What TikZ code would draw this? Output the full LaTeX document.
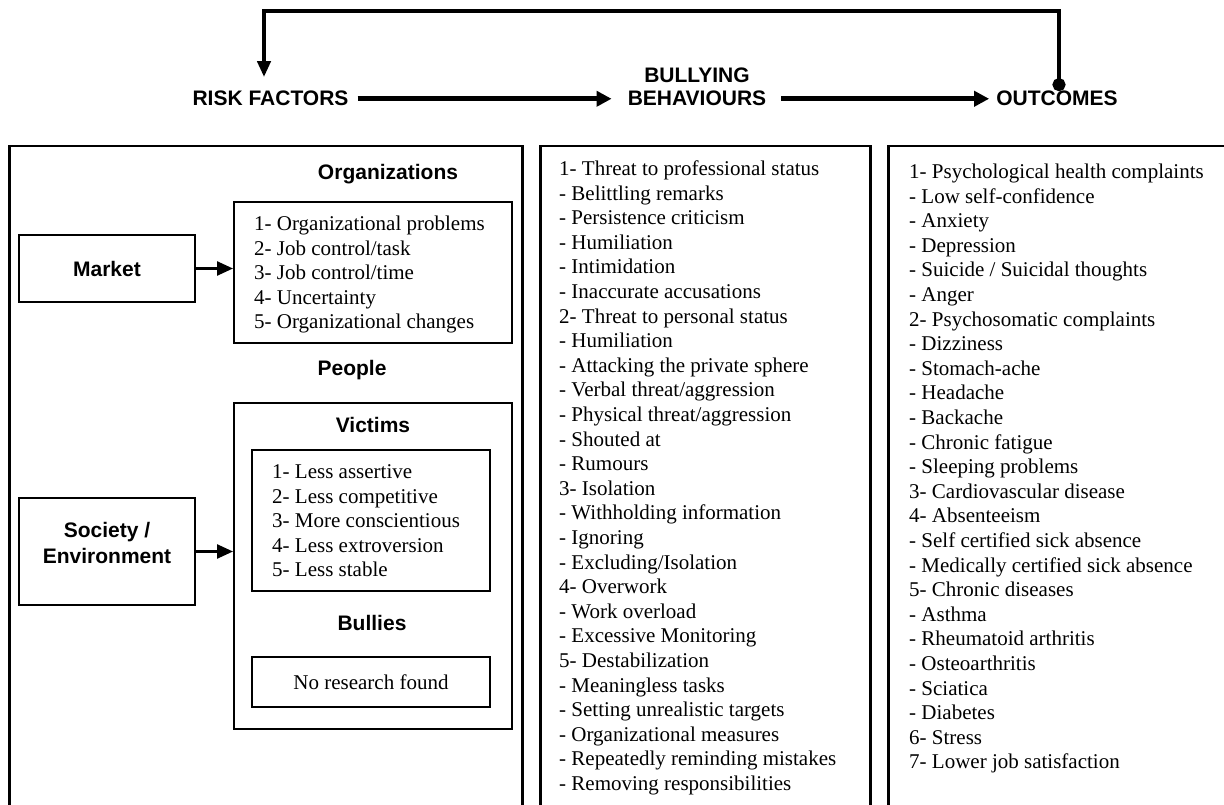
\documentclass[tikz,border=0pt]{standalone}
\usepackage{fontspec}
\setmainfont{Liberation Serif}
\setsansfont{Liberation Sans}
\usetikzlibrary{arrows.meta}

\begin{document}
\begin{tikzpicture}[x=1pt,y=-1pt,
  heading/.style={font=\sffamily\bfseries\fontsize{21}{26}\selectfont, inner sep=0pt, anchor=base},
  itemlist/.style={font=\fontsize{21}{24.6}\selectfont, inner sep=0pt, anchor=base west},
  panel/.style={draw, line width=2.5pt, anchor=north west, inner sep=0pt},
  boxed/.style={draw, line width=2pt, anchor=north west, inner sep=0pt},
  flow/.style={line width=5pt, -{Triangle[length=15pt,width=15pt]}},
  feed/.style={line width=4.3pt, {Circle[length=13pt]}-{Triangle[length=16pt,width=13pt]}},
  push/.style={line width=2.5pt, -{Triangle[length=16pt,width=14pt]}}
]
\useasboundingbox (0,0) rectangle (1224,805);
\clip (0,0) rectangle (1224,805);

% column panels (open towards the bottom of the page)
\node[panel, minimum width=513pt, minimum height=700pt] (riskpanel) at (8,145) {};
\node[panel, minimum width=330pt, minimum height=700pt] (bullpanel) at (539,145) {};
\node[panel, minimum width=400pt, minimum height=700pt] (outpanel) at (887,145) {};

% main flow headings
\node[heading] (risk) at (270.5,106) {RISK FACTORS};
\node[heading] (bul) at (697,83) {BULLYING};
\node[heading] (beh) at (697,106) {BEHAVIOURS};
\node[heading] (out) at (1057,106) {OUTCOMES};

\draw[flow, shorten <=9pt, shorten >=16pt] (risk.east) -- (beh.west);
\draw[flow, shorten <=15pt, shorten >=7pt] (beh.east) -- (out.west);

% feedback loop from outcomes back to risk factors
\coordinate (fbfrom) at ([xshift=2pt]out.north);
\coordinate (fbto) at ([xshift=-6.5pt]risk.north);
\coordinate (fbtop) at (660,11);
\draw[feed, shorten >=14pt] (fbfrom) -- (fbfrom |- fbtop) -| (fbto);

% risk factors panel
\node[heading] (orgtitle) at (388,179.5) {Organizations};
\node[boxed, minimum width=278pt, minimum height=141pt] (orgbox) at (233,201) {};
\node[itemlist] (orglist) at (254,230.5) {\begin{tabular}[t]{@{}l@{}}
1- Organizational problems\\
2- Job control/task\\
3- Job control/time\\
4- Uncertainty\\
5- Organizational changes
\end{tabular}};
\node[boxed, minimum width=176pt, minimum height=67pt,
      font=\sffamily\bfseries\fontsize{21}{26}\selectfont] (market) at (18,234) {Market};
\draw[push] (market.east) -- (market.east -| orgbox.west);

\node[heading] (people) at (352,375.5) {People};
\node[boxed, minimum width=278pt, minimum height=326pt] (victbox) at (233,402) {};
\node[heading] (victims) at (373,432.5) {Victims};
\node[boxed, minimum width=238pt, minimum height=141pt] (traitbox) at (251,449) {};
\node[itemlist] (traitlist) at (272,478.5) {\begin{tabular}[t]{@{}l@{}}
1- Less assertive\\
2- Less competitive\\
3- More conscientious\\
4- Less extroversion\\
5- Less stable
\end{tabular}};
\node[heading] (bullies) at (372,630.5) {Bullies};
\node[boxed, minimum width=238pt, minimum height=50pt,
      font=\fontsize{21}{24.6}\selectfont] (nores) at (251,656) {No research found};

\node[boxed, minimum width=176pt, minimum height=107pt] (society) at (18,497) {};
\node[heading] (societytext) at (107,537.5) {\begin{tabular}[t]{@{}c@{}}Society /\\[-0.4pt]Environment\end{tabular}};
\draw[push] (society.east) -- (society.east -| victbox.west);

% bullying behaviours panel
\node[itemlist] (behlist) at (559,175.5) {\begin{tabular}[t]{@{}l@{}}
1- Threat to professional status\\
- Belittling remarks\\
- Persistence criticism\\
- Humiliation\\
- Intimidation\\
- Inaccurate accusations\\
2- Threat to personal status\\
- Humiliation\\
- Attacking the private sphere\\
- Verbal threat/aggression\\
- Physical threat/aggression\\
- Shouted at\\
- Rumours\\
3- Isolation\\
- Withholding information\\
- Ignoring\\
- Excluding/Isolation\\
4- Overwork\\
- Work overload\\
- Excessive Monitoring\\
5- Destabilization\\
- Meaningless tasks\\
- Setting unrealistic targets\\
- Organizational measures\\
- Repeatedly reminding mistakes\\
- Removing responsibilities
\end{tabular}};

% outcomes panel
\node[itemlist] (outlist) at (909,178.5) {\begin{tabular}[t]{@{}l@{}}
1- Psychological health complaints\\
- Low self-confidence\\
- Anxiety\\
- Depression\\
- Suicide / Suicidal thoughts\\
- Anger\\
2- Psychosomatic complaints\\
- Dizziness\\
- Stomach-ache\\
- Headache\\
- Backache\\
- Chronic fatigue\\
- Sleeping problems\\
3- Cardiovascular disease\\
4- Absenteeism\\
- Self certified sick absence\\
- Medically certified sick absence\\
5- Chronic diseases\\
- Asthma\\
- Rheumatoid arthritis\\
- Osteoarthritis\\
- Sciatica\\
- Diabetes\\
6- Stress\\
7- Lower job satisfaction
\end{tabular}};
\end{tikzpicture}
\end{document}
